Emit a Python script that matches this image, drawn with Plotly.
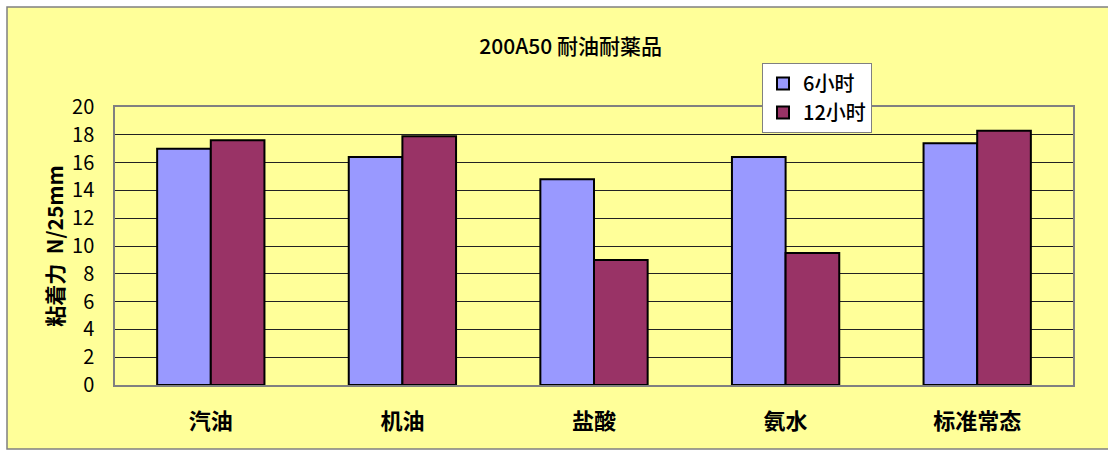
import plotly.graph_objects as go

# Adhesion after immersion, 200A50 tape
categories = ["汽油", "机油", "盐酸", "氨水", "标准常态"]
series_names = ["6小时", "12小时"]
values_6h = [17.0, 16.4, 14.8, 16.4, 17.4]
values_12h = [17.6, 17.9, 9.0, 9.5, 18.3]
y_ticks = [0, 2, 4, 6, 8, 10, 12, 14, 16, 18, 20]

FONT = "Noto Sans CJK JP, Liberation Sans, sans-serif"

fig = go.Figure()
fig.add_trace(go.Bar(
    x=categories, y=values_6h, name=series_names[0],
    marker=dict(color="#9999FF", line=dict(color="black", width=2)),
))
fig.add_trace(go.Bar(
    x=categories, y=values_12h, name=series_names[1],
    marker=dict(color="#993366", line=dict(color="black", width=2)),
))

fig.update_layout(
    width=1108, height=456,
    margin=dict(l=115, r=35, t=107, b=71),
    paper_bgcolor="white",
    plot_bgcolor="#C0C0C0",
    barmode="group",
    bargap=0.44,
    bargroupgap=0,
    font=dict(family=FONT, color="black"),
    title=dict(
        text="200A50 耐油耐薬品",
        x=0.515, xanchor="center", y=0.897, yanchor="middle",
        font=dict(size=21, family=FONT, weight=500),
    ),
    legend=dict(
        x=(762 - 115) / 958, y=(385 - 63) / 278,
        xanchor="left", yanchor="top",
        bgcolor="white", bordercolor="#808080", borderwidth=1,
        font=dict(size=20, family=FONT, weight=500),
        tracegroupgap=0,
    ),
    showlegend=True,
    shapes=[
        dict(type="rect", xref="paper", yref="paper",
             x0=-108 / 958, x1=1101 / 958, y0=-64 / 278, y1=1 + 100 / 278,
             fillcolor="#FFFF99", line=dict(color="#808080", width=1.5),
             layer="below"),
    ],
)

fig.update_xaxes(
    showline=True, linecolor="#808080", linewidth=1.5, mirror=True,
    ticks="", tickfont=dict(size=22, family=FONT, weight="bold"),
    ticklabelstandoff=16,
)
fig.update_yaxes(
    range=[0, 20], tickvals=y_ticks,
    showgrid=True, gridcolor="#222222", gridwidth=1,
    showline=True, linecolor="#808080", linewidth=1.5, mirror=True,
    ticks="inside", ticklen=5, tickcolor="#222222",
    tickfont=dict(size=20, family=FONT),
    ticklabelstandoff=15,
    title=dict(text="粘着力  N/25mm", font=dict(size=21, family=FONT, weight="bold"), standoff=3),
    zeroline=False,
)

fig.write_html("out.html")
